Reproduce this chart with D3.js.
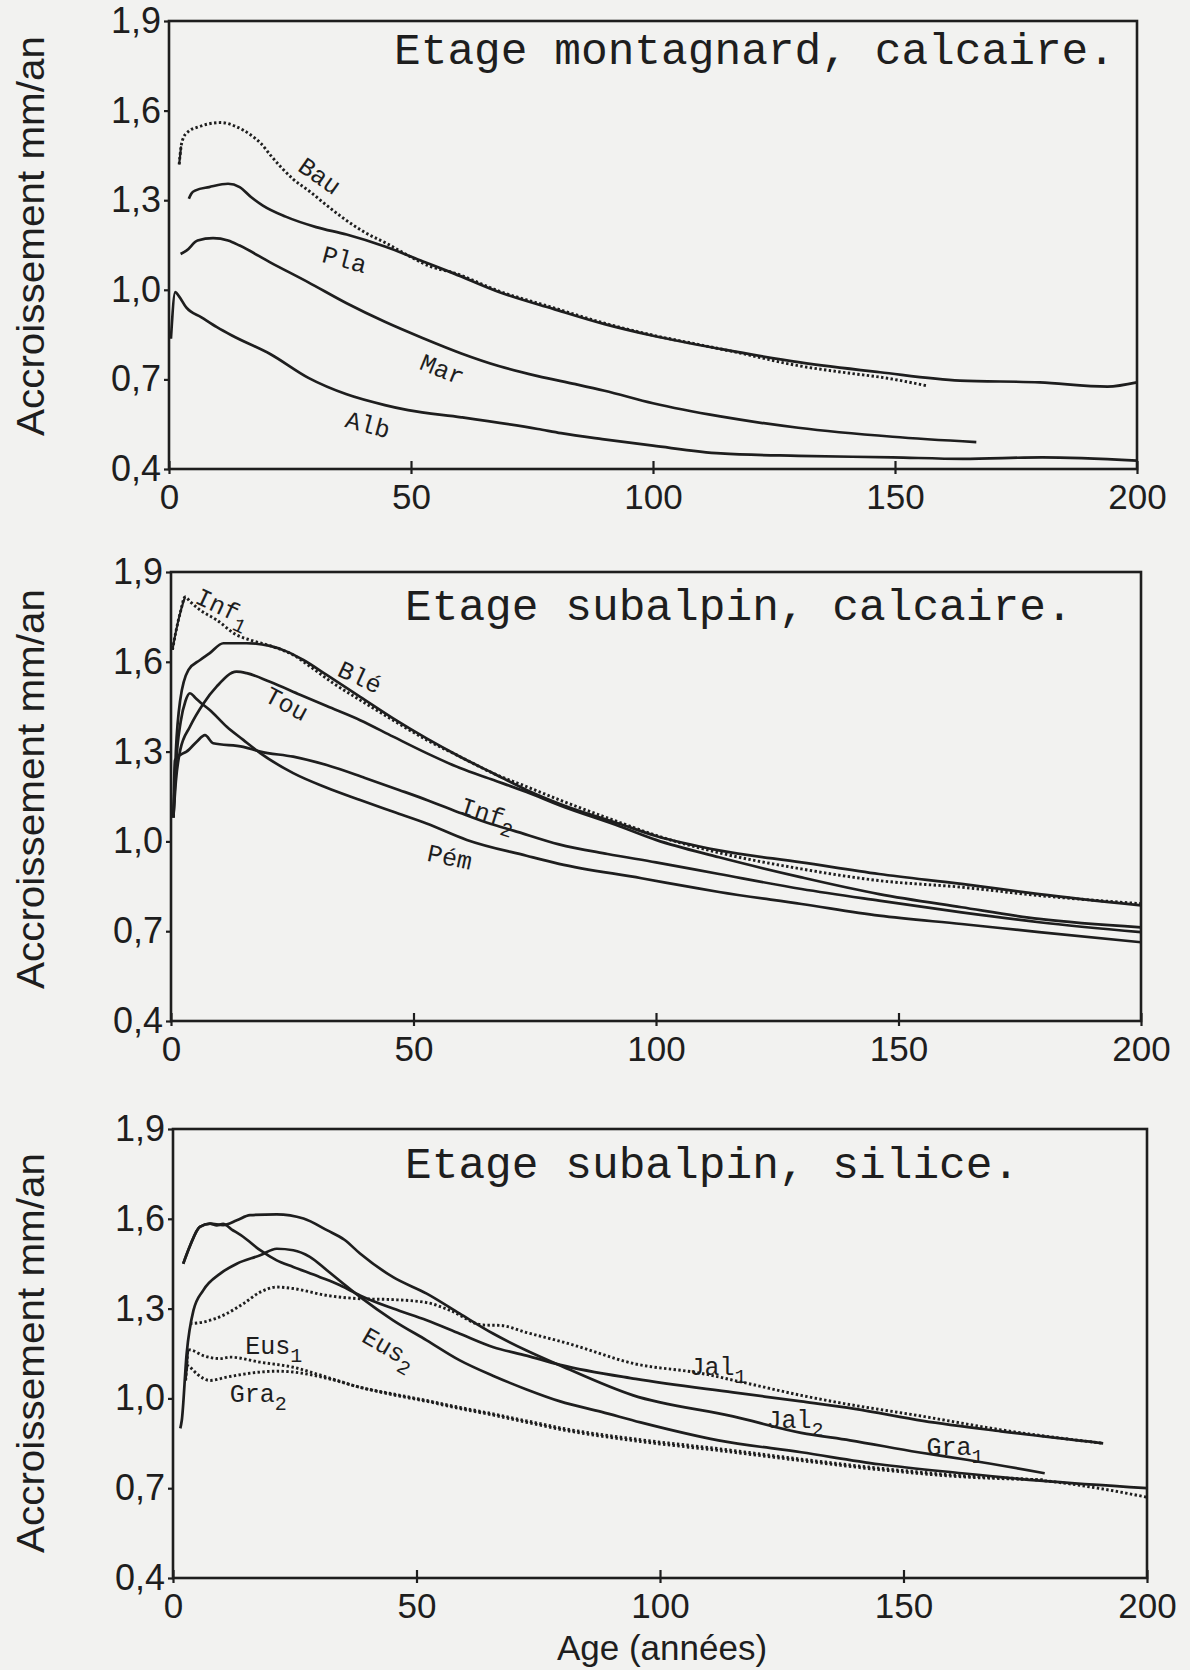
<!DOCTYPE html>
<html><head><meta charset="utf-8">
<script src="https://cdn.jsdelivr.net/npm/d3@7"></script>
<style>body{margin:0;background:#f2f2f0;} svg{display:block}</style>
</head><body><svg id="c" width="1190" height="1670"></svg>
<script>
// ---------- data ----------
const xTicks = [0, 50, 100, 150, 200];
const yTicks = [0.4, 0.7, 1.0, 1.3, 1.6, 1.9];
const titles = ["Etage montagnard, calcaire.", "Etage subalpin, calcaire.", "Etage subalpin, silice."];
const yTitle = "Accroissement mm/an";
const xTitle = "Age (années)";

// panel 1 : montagnard, calcaire  [age, mm/an]
const bau = [[2.1,1.42],[2.5,1.48],[3,1.51],[4,1.53],[6,1.545],[8,1.555],[10.7,1.56],[13.8,1.547],[17,1.517],[19,1.49],[21,1.45],[25.7,1.37],[29,1.33],[32.8,1.28],[36,1.24],[40.7,1.19],[45,1.155],[49.4,1.115],[54,1.078],[58.8,1.057],[68.3,0.995],[79.4,0.94],[90,0.888],[100,0.848],[110,0.815],[118,0.788],[130,0.746],[140,0.722],[148,0.705],[156.5,0.679]];
const pla = [[4.1,1.305],[4.6,1.322],[5.5,1.333],[8.3,1.344],[12.2,1.355],[14.6,1.344],[17,1.31],[19.4,1.282],[24.1,1.245],[30.4,1.21],[36.7,1.185],[44.6,1.145],[52.5,1.095],[58.8,1.055],[68.3,0.992],[79.4,0.936],[90,0.885],[100,0.846],[113.9,0.802],[130.4,0.757],[146.9,0.724],[163.4,0.696],[179.9,0.69],[193.9,0.676],[200,0.69]];
const mar = [[2.4,1.12],[3.6,1.131],[5.9,1.165],[9.1,1.173],[12.2,1.165],[14.6,1.148],[20.9,1.092],[28.8,1.025],[36.7,0.955],[44.6,0.893],[52.5,0.838],[60.4,0.787],[68.3,0.744],[76.2,0.711],[84,0.684],[90,0.662],[100,0.62],[113.9,0.576],[130,0.538],[149.5,0.508],[166.8,0.49]];
const alb = [[0.4,0.836],[1.3,0.992],[2,0.98],[3.6,0.94],[6.7,0.908],[9.9,0.875],[13,0.847],[20.9,0.785],[28.8,0.705],[36.7,0.65],[44.6,0.614],[49.4,0.597],[60.4,0.573],[76.2,0.534],[81,0.52],[89.5,0.5],[100,0.478],[114,0.452],[130,0.444],[149.5,0.439],[164,0.434],[180.4,0.439],[200,0.428]];

// panel 2 : subalpin, calcaire
const inf1 = [[0.3,1.64],[1,1.70],[2,1.77],[2.9,1.817],[4,1.80],[6,1.773],[9.4,1.74],[13.5,1.69],[16.3,1.673],[21.1,1.65],[25.2,1.623],[28.7,1.584],[33.5,1.528],[39,1.472],[45.8,1.405],[52.7,1.339],[59.6,1.283],[66.5,1.227],[73.3,1.183],[80.2,1.138],[92.6,1.063],[100,1.02],[113,0.962],[130,0.908],[146,0.869],[163,0.847],[179,0.819],[200,0.792]];
const ble = [[0.5,1.08],[1,1.30],[1.9,1.472],[3.6,1.573],[6,1.606],[8,1.629],[10.8,1.662],[15.6,1.662],[20.4,1.653],[23.9,1.634],[27.3,1.606],[32.1,1.556],[39,1.483],[45.8,1.411],[52.7,1.344],[59.6,1.283],[66.5,1.227],[73.3,1.172],[80.2,1.125],[92.6,1.058],[100,1.018],[113,0.97],[130,0.93],[146,0.891],[163,0.858],[179,0.824],[200,0.786]];
const tou = [[0.5,1.08],[1,1.20],[1.9,1.305],[3.9,1.383],[6.7,1.461],[9.4,1.517],[13.5,1.567],[15.6,1.562],[20.4,1.533],[26.6,1.49],[32.1,1.452],[39,1.405],[45.8,1.35],[52.7,1.295],[59.6,1.245],[66.5,1.205],[73.3,1.165],[80.2,1.12],[92.6,1.05],[100,1.005],[113,0.947],[130,0.88],[146,0.824],[163,0.78],[179,0.741],[200,0.713]];
const inf2 = [[0.5,1.08],[0.8,1.27],[2,1.29],[3.2,1.30],[5.3,1.333],[7,1.355],[8.7,1.328],[14.9,1.316],[18.4,1.30],[25.2,1.283],[32.1,1.255],[40,1.212],[47,1.172],[53,1.137],[60,1.093],[66,1.058],[70.6,1.036],[80,0.99],[90,0.958],[100,0.93],[113,0.891],[130,0.841],[146,0.802],[163,0.763],[179,0.73],[200,0.697]];
const pem = [[0.5,1.08],[1,1.25],[2,1.40],[3,1.47],[3.9,1.495],[5,1.48],[6,1.465],[8,1.439],[11.5,1.383],[14.9,1.339],[18.4,1.295],[25.2,1.228],[32,1.18],[39,1.138],[46,1.098],[52.7,1.06],[61,1.005],[73.3,0.952],[80,0.925],[97,0.877],[109,0.842],[113,0.831],[130,0.791],[146,0.752],[163,0.724],[179,0.697],[200,0.663]];

// panel 3 : subalpin, silice
const jal1 = [[3.5,1.25],[6.2,1.255],[11,1.283],[14.4,1.316],[17.9,1.355],[21.3,1.372],[24.7,1.367],[31.6,1.344],[38.4,1.333],[45.2,1.33],[52.1,1.32],[56.9,1.294],[63.7,1.245],[67.1,1.244],[72.6,1.22],[80.8,1.185],[95,1.115],[108,1.085],[118,1.05],[129,1.01],[137,0.985],[154,0.94],[170,0.895],[191,0.85]];
const jal2 = [[2.1,1.45],[3.5,1.51],[5.5,1.573],[7.6,1.584],[9,1.578],[10.3,1.583],[12,1.565],[14.4,1.54],[17.9,1.495],[21.3,1.461],[24.7,1.439],[30.2,1.405],[34.3,1.378],[38.4,1.344],[45.2,1.3],[52.1,1.261],[58.9,1.216],[65.8,1.171],[72.6,1.143],[79.5,1.112],[95,1.065],[115,1.02],[129,0.99],[140,0.965],[154,0.925],[170,0.89],[191,0.85]];
const gra1 = [[2.1,1.45],[3.5,1.51],[5.5,1.573],[7.6,1.584],[10.3,1.579],[13.1,1.595],[15.8,1.612],[21.3,1.615],[26.8,1.601],[31.6,1.562],[35.2,1.53],[38.4,1.484],[45.2,1.405],[52.1,1.35],[58.9,1.283],[65.8,1.216],[72.6,1.16],[79.5,1.11],[94.5,1.01],[115,0.94],[129,0.885],[139,0.86],[153,0.82],[163,0.795],[179,0.75]];
const eus2 = [[1.5,0.90],[1.8,0.926],[2.8,1.149],[4.2,1.294],[6.2,1.361],[9.7,1.417],[13.1,1.45],[17.9,1.478],[21.3,1.5],[24.7,1.495],[28.1,1.473],[31.6,1.428],[35,1.383],[38.4,1.339],[45.2,1.261],[52.1,1.194],[58.9,1.127],[65.8,1.075],[72.6,1.03],[79.5,0.99],[88,0.955],[96,0.92],[112,0.86],[129,0.82],[145,0.78],[162,0.75],[178,0.725],[200,0.70]];
const eus1 = [[2.8,1.10],[3.1,1.163],[4,1.16],[6.2,1.143],[9.7,1.133],[11.7,1.138],[17.9,1.121],[24.7,1.104],[31.6,1.071],[38.4,1.037],[45.2,1.015],[52.1,0.993],[58.9,0.97],[65.8,0.948],[72.6,0.925],[80,0.90],[96,0.862],[112,0.832],[129,0.797],[145,0.767],[162,0.742],[179,0.725],[190,0.70],[200,0.67]];
const gra2 = [[2.6,1.06],[2.9,1.11],[3.5,1.104],[4.9,1.082],[7.6,1.06],[11,1.071],[17.9,1.088],[21.3,1.091],[24.7,1.088],[31.6,1.067],[38.4,1.037],[45.2,1.012],[52.1,0.99],[58.9,0.966],[65.8,0.944],[72.6,0.92],[80,0.895],[96,0.856],[112,0.826],[129,0.792],[145,0.762],[162,0.738],[179,0.728]];

// ---------- layout / style ----------
const panels = [
  { title: titles[0], x0: 169, x1: 1137, yTop: 21, yBot: 469, titleX: 394, titleY: 64, yTitleY: 236,
    series: [ {d: bau, dotted: true, lead: 2}, {d: pla}, {d: mar}, {d: alb} ],
    labels: [ {t:"Bau", a:31.2, v:1.383, r:35}, {t:"Pla", a:36.3, v:1.103, r:15}, {t:"Mar", a:56.5, v:0.735, r:22}, {t:"Alb", a:41.1, v:0.55, r:15} ] },
  { title: titles[1], x0: 171, x1: 1141, yTop: 572, yBot: 1021, titleX: 405, titleY: 620, yTitleY: 789,
    series: [ {d: inf1, dotted: true, lead: 4}, {d: ble}, {d: tou}, {d: inf2}, {d: pem} ],
    labels: [ {t:"Inf", s:"1", a:10.8, v:1.784, r:25}, {t:"Blé", a:39, v:1.55, r:25}, {t:"Tou", a:23.9, v:1.461, r:28}, {t:"Inf", s:"2", a:65.4, v:1.094, r:18}, {t:"Pém", a:57.5, v:0.949, r:12} ] },
  { title: titles[2], x0: 173, x1: 1147, yTop: 1129, yBot: 1578, titleX: 405, titleY: 1178, yTitleY: 1353,
    series: [ {d: jal1, dotted: true}, {d: eus1, dotted: true, lead: 2}, {d: gra2, dotted: true, lead: 2}, {d: jal2}, {d: gra1}, {d: eus2} ],
    labels: [ {t:"Eus", s:"1", a:20.7, v:1.177, r:0}, {t:"Gra", s:"2", a:17.5, v:1.016, r:0}, {t:"Eus", s:"2", a:44.4, v:1.17, r:30}, {t:"Jal", s:"1", a:111.9, v:1.107, r:0}, {t:"Jal", s:"2", a:127.7, v:0.932, r:0}, {t:"Gra", s:"1", a:160.6, v:0.839, r:0} ] }
];

const ink = "#1e1e1e";
const sansFont = "'Liberation Sans', Arial, sans-serif";
const monoFont = "'Liberation Mono', 'Courier New', monospace";
const svg = d3.select("#c");
svg.append("rect").attr("width", 1190).attr("height", 1670).attr("fill", "#f2f2f0");

const fmt = d => d3.format(".1f")(d).replace(".", ",");

panels.forEach((p, i) => {
  const x = d3.scaleLinear().domain([0, 200]).range([p.x0, p.x1]);
  const y = d3.scaleLinear().domain([0.4, 1.9]).range([p.yBot, p.yTop]);
  const g = svg.append("g");

  // frame
  g.append("rect").attr("x", p.x0).attr("y", p.yTop).attr("width", p.x1 - p.x0).attr("height", p.yBot - p.yTop)
    .attr("fill", "none").attr("stroke", ink).attr("stroke-width", 2.6);

  // x axis
  const xa = g.append("g").attr("transform", `translate(0,${p.yBot})`)
    .call(d3.axisBottom(x).tickValues(xTicks).tickFormat(d3.format("d")).tickSize(-7).tickPadding(15));
  xa.select(".domain").remove();
  xa.selectAll(".tick line").attr("y1", 5).attr("y2", -8).attr("stroke", ink).attr("stroke-width", 2.2);
  xa.selectAll("text").attr("font-family", sansFont).attr("font-size", 35).attr("fill", ink);

  // y axis
  const ya = g.append("g").attr("transform", `translate(${p.x0},0)`)
    .call(d3.axisLeft(y).tickValues(yTicks).tickFormat(fmt).tickSize(5).tickPadding(3));
  ya.select(".domain").remove();
  ya.selectAll(".tick line").attr("stroke", ink).attr("stroke-width", 2.2);
  ya.selectAll("text").attr("font-family", sansFont).attr("font-size", 36).attr("fill", ink);

  // y title
  g.append("text").attr("transform", `translate(44,${p.yTitleY}) rotate(-90)`)
    .attr("text-anchor", "middle").attr("font-family", sansFont).attr("font-size", 39)
    .attr("textLength", 400).attr("lengthAdjust", "spacingAndGlyphs")
    .attr("fill", ink).text(yTitle);

  // title
  g.append("text").attr("x", p.titleX).attr("y", p.titleY).attr("font-family", monoFont)
    .attr("font-size", 44.5).attr("fill", ink).text(p.title);

  // series
  const line = d3.line().x(d => x(d[0])).y(d => y(d[1])).curve(d3.curveMonotoneX);
  p.series.forEach(s => {
    g.append("path").attr("d", line(s.d)).attr("fill", "none").attr("stroke", ink)
      .attr("stroke-width", s.dotted ? 2.9 : 2.7)
      .attr("stroke-dasharray", s.dotted ? "2.4 2.4" : null)
      .attr("stroke-linejoin", "round");
    if (s.lead) {
      g.append("path").attr("d", line(s.d.slice(0, s.lead))).attr("fill", "none")
        .attr("stroke", ink).attr("stroke-width", 2.2);
    }
  });

  // labels
  p.labels.forEach(l => {
    const t = g.append("text")
      .attr("transform", `translate(${x(l.a)},${y(l.v)}) rotate(${l.r})`)
      .attr("text-anchor", "middle").attr("dy", "0.35em")
      .attr("font-family", monoFont).attr("font-size", 25).attr("fill", ink);
    t.append("tspan").text(l.t);
    if (l.s) t.append("tspan").attr("dy", 8).attr("font-size", 20).text(l.s);
  });
});

// x title
svg.append("text").attr("x", 662).attr("y", 1660).attr("text-anchor", "middle")
  .attr("font-family", sansFont).attr("font-size", 35).attr("fill", ink).text(xTitle);
</script>
</body></html>
